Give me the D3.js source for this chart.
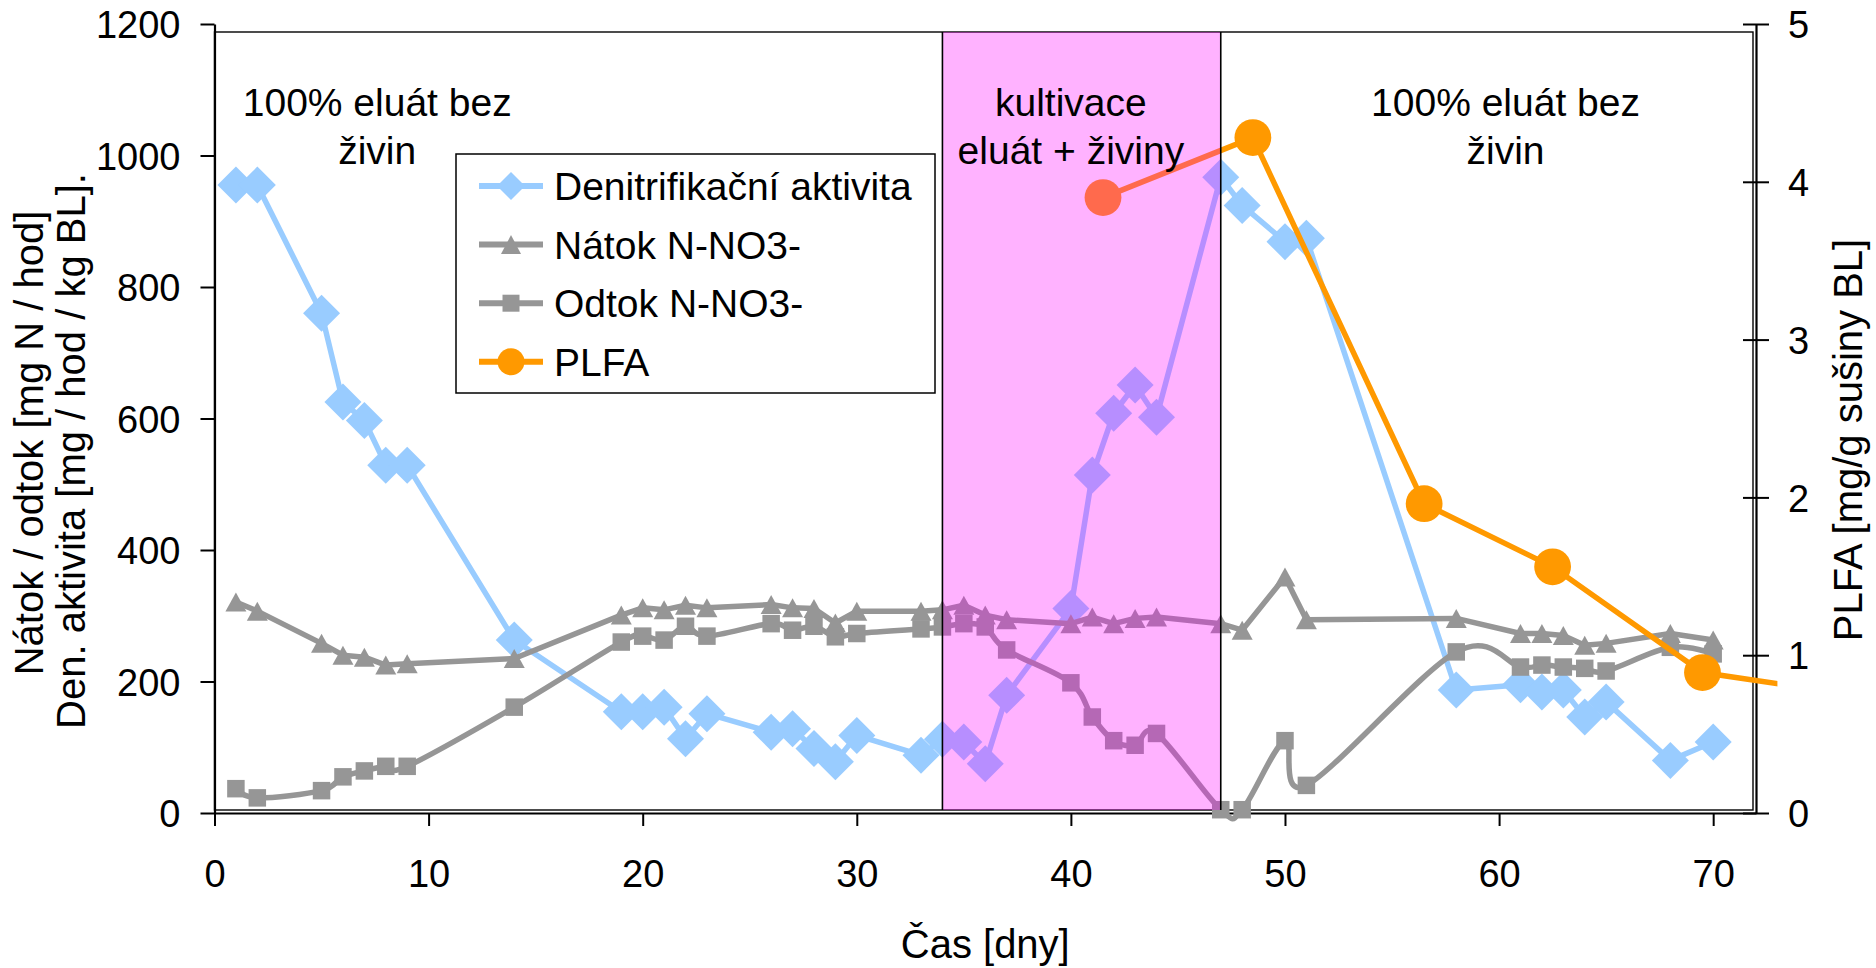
<!DOCTYPE html>
<html><head><meta charset="utf-8">
<script src="https://cdn.jsdelivr.net/npm/d3@7/dist/d3.min.js"></script>
<style>
body{margin:0;background:#fff;}
svg text{font-family:"Liberation Sans",Arial,Helvetica,sans-serif;fill:#000;}
</style>
</head><body>
<svg id="chart" width="1876" height="968"></svg>
<script>
// ---------- data ----------
const days = [1,2,5,6,7,8,9,14,19,20,21,22,23,26,27,28,29,30,33,34,35,36,37,40,41,42,43,44,47,48,50,51,58,61,62,63,64,65,68,70];
const denitrifikace = [955,955,760,625,597,529,529,263,154,154,161,113,151,123,128,98,78,118,88,112,108,75,179,311,514,608,651,602,967,924,869,874,187,195,184,187,146,169,80,108];
const natok = [321,307,258,240,237,225,227,235,301,312,309,316,312,317,312,311,289,307,307,309,316,301,294,288,298,288,296,298,288,278,359,294,296,273,273,270,255,258,273,263];
const odtok = [37,23,34,55,64,71,71,161,260,269,263,284,269,288,278,284,268,273,280,283,288,283,248,198,146,110,103,121,5,5,110,42,245,222,225,222,220,216,252,242];
const plfaDays = [41.5,48.5,56.5,62.5,69.5,76.5];
const plfa = [3.9,4.28,1.96,1.56,0.89,0.75];
const xTicks = [0,10,20,30,40,50,60,70];
const leftTicks = [0,200,400,600,800,1000,1200];
const rightTicks = [0,1,2,3,4,5];
const cultivation = [34,47];
const phaseLabels = [["100% eluát bez","živin"],["kultivace","eluát + živiny"],["100% eluát bez","živin"]];
const seriesNames = ["Denitrifikační aktivita","Nátok N-NO3-","Odtok N-NO3-","PLFA"];
const xTitle = "Čas [dny]";
const leftTitle = ["Nátok / odtok [mg N / hod]","Den. aktivita [mg / hod / kg BL]."];
const rightTitle = "PLFA [mg/g sušiny BL]";

// ---------- layout ----------
const svg = d3.select("#chart");
const X0 = 214.5, X1 = 1756, Y0 = 813, Y1 = 24;
const x = d3.scaleLinear().domain([0,72]).range([X0,X1]);
const yL = d3.scaleLinear().domain([0,1200]).range([Y0,Y1]);
const yR = d3.scaleLinear().domain([0,5]).range([Y0,Y1]);

const BLUE = "#99CCFF", GRAY = "#969696", ORANGE = "#FF9900";
const FS = 38;

// frame
svg.append("rect").attr("x",X0).attr("y",32).attr("width",1753-X0).attr("height",810-32)
  .attr("fill","none").attr("stroke","#000").attr("stroke-width",1.4);

// axes
const gL = svg.append("g").attr("transform",`translate(${X0},0)`)
  .call(d3.axisLeft(yL).tickValues(leftTicks).tickSize(14).tickSizeOuter(0).tickPadding(20).tickFormat(d3.format("d")));
const gB = svg.append("g").attr("transform",`translate(0,${Y0})`)
  .call(d3.axisBottom(x).tickValues(xTicks).tickSize(13).tickSizeOuter(0).tickPadding(34).tickFormat(d3.format("d")));
const gR = svg.append("g").attr("transform",`translate(${X1},0)`)
  .call(d3.axisRight(yR).tickValues(rightTicks).tickSize(13).tickSizeOuter(0).tickPadding(19).tickFormat(d3.format("d")));
gR.selectAll(".tick line").attr("x1",-13);
[gL,gB,gR].forEach(g=>{
  g.selectAll(".domain").attr("stroke","#000").attr("stroke-width",2.2);
  g.selectAll(".tick line").attr("stroke","#000").attr("stroke-width",2);
  g.selectAll("text").attr("font-size",FS).attr("font-family","Liberation Sans, Arial, sans-serif").attr("fill","#000");
});
gL.selectAll("text").attr("dy","0.36em");
gR.selectAll("text").attr("dy","0.36em");

// axis titles
svg.append("text").attr("x",x(36)).attr("y",958).attr("text-anchor","middle").attr("font-size",40).text(xTitle);
svg.append("text").attr("transform","translate(43,443) rotate(-90)").attr("text-anchor","middle").attr("font-size",40).text(leftTitle[0]);
svg.append("text").attr("transform","translate(85,451) rotate(-90)").attr("text-anchor","middle").attr("font-size",40).text(leftTitle[1]);
svg.append("text").attr("transform","translate(1862,440) rotate(-90)").attr("text-anchor","middle").attr("font-size",40).text(rightTitle);

// marker shapes
function diamond(h){return `M0,${-h}L${h},0L0,${h}L${-h},0Z`;}
function triangle(w,h){return `M0,${-h/2}L${w/2},${h/2}L${-w/2},${h/2}Z`;}
function square(s){return `M${-s/2},${-s/2}h${s}v${s}h${-s}Z`;}

const ptsBlue = days.map((d,i)=>[d,denitrifikace[i]]);
const ptsNat = days.map((d,i)=>[d,natok[i]]);
const ptsOdt = days.map((d,i)=>[d,odtok[i]]);
const ptsPl = plfaDays.map((d,i)=>[d,plfa[i]]);

const LW = 5.5;
const lineL = d3.line().x(d=>x(d[0])).y(d=>yL(d[1]));
const lineSmooth = d3.line().x(d=>x(d[0])).y(d=>yL(d[1])).curve(d3.curveCatmullRom.alpha(0));
const lineR = d3.line().x(d=>x(d[0])).y(d=>yR(d[1]));

// Denitrifikační aktivita
const sB = svg.append("g");
sB.append("path").attr("d",lineL(ptsBlue)).attr("fill","none").attr("stroke",BLUE).attr("stroke-width",LW).attr("stroke-linejoin","round");
sB.selectAll("path.m").data(ptsBlue).join("path").attr("class","m")
  .attr("transform",d=>`translate(${x(d[0])},${yL(d[1])})`).attr("d",diamond(18.5)).attr("fill",BLUE);

// Nátok
const sN = svg.append("g");
sN.append("path").attr("d",lineL(ptsNat)).attr("fill","none").attr("stroke",GRAY).attr("stroke-width",LW).attr("stroke-linejoin","round");
sN.selectAll("path.m").data(ptsNat).join("path").attr("class","m")
  .attr("transform",d=>`translate(${x(d[0])},${yL(d[1])})`).attr("d",triangle(21,19)).attr("fill",GRAY);

// Odtok (smoothed)
const sO = svg.append("g");
sO.append("path").attr("d",lineSmooth(ptsOdt)).attr("fill","none").attr("stroke",GRAY).attr("stroke-width",LW).attr("stroke-linejoin","round");
sO.selectAll("path.m").data(ptsOdt).join("path").attr("class","m")
  .attr("transform",d=>`translate(${x(d[0])},${yL(d[1])})`).attr("d",square(17.5)).attr("fill",GRAY);

// PLFA (secondary axis), clipped just past the right axis
svg.append("clipPath").attr("id","clipPl").append("rect")
  .attr("x",X0).attr("y",0).attr("width",x(73)-X0).attr("height",Y0+10);
const sP = svg.append("g").attr("clip-path","url(#clipPl)");
sP.append("path").attr("d",lineR(ptsPl)).attr("fill","none").attr("stroke",ORANGE).attr("stroke-width",LW);
sP.selectAll("circle").data(ptsPl).join("circle")
  .attr("cx",d=>x(d[0])).attr("cy",d=>yR(d[1])).attr("r",18.4).attr("fill",ORANGE);

// cultivation band (translucent overlay)
svg.append("rect").attr("x",x(cultivation[0])).attr("y",32).attr("width",x(cultivation[1])-x(cultivation[0])).attr("height",810-32)
  .attr("fill","#FF00FF").attr("fill-opacity",0.3);
cultivation.forEach(c=>{
  svg.append("line").attr("x1",x(c)).attr("x2",x(c)).attr("y1",32).attr("y2",810).attr("stroke","#000").attr("stroke-width",1.6);
});

// phase labels
const labelX = [7.6, 40.0, 60.3];
phaseLabels.forEach((lines,i)=>{
  lines.forEach((t,j)=>{
    svg.append("text").attr("x",x(labelX[i])).attr("y",116+j*48).attr("text-anchor","middle").attr("font-size",39).text(t);
  });
});

// legend
const lg = svg.append("g");
lg.append("rect").attr("x",456).attr("y",154).attr("width",479).attr("height",239).attr("fill","#fff").attr("stroke","#000").attr("stroke-width",1.5);
const legColors = [BLUE,GRAY,GRAY,ORANGE];
seriesNames.forEach((name,i)=>{
  const cy = 186 + i*58.6;
  lg.append("line").attr("x1",479).attr("x2",543).attr("y1",cy).attr("y2",cy).attr("stroke",legColors[i]).attr("stroke-width",6);
  const g = lg.append("g").attr("transform",`translate(511,${cy})`);
  if(i===0) g.append("path").attr("d",diamond(14)).attr("fill",BLUE);
  if(i===1) g.append("path").attr("d",triangle(20,19)).attr("fill",GRAY);
  if(i===2) g.append("path").attr("d",square(17)).attr("fill",GRAY);
  if(i===3) g.append("circle").attr("r",13.5).attr("fill",ORANGE);
  lg.append("text").attr("x",554).attr("y",cy+14).attr("font-size",39).text(name);
});
</script>
</body></html>
